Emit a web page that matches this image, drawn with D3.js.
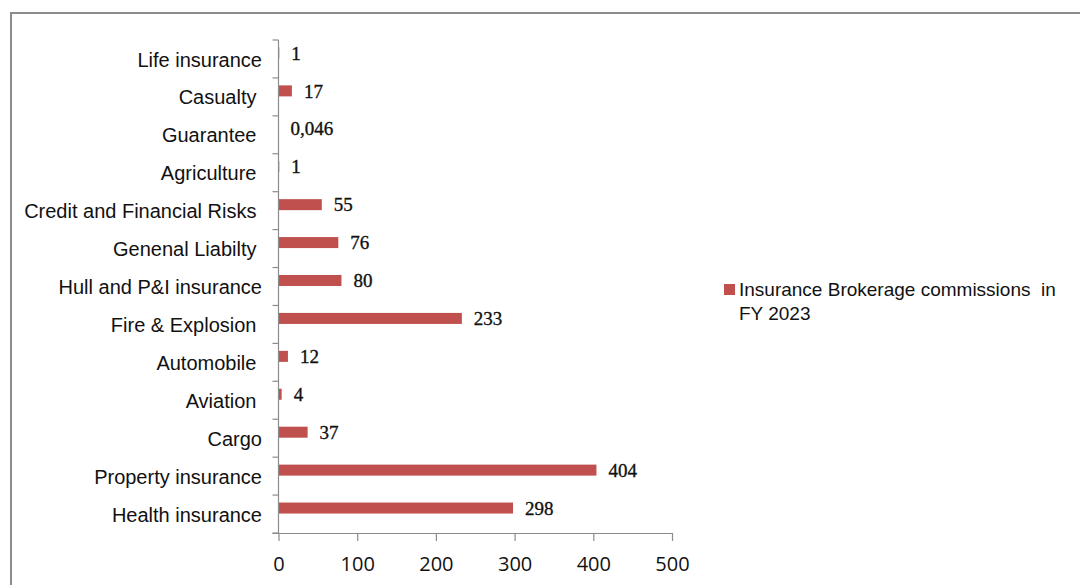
<!DOCTYPE html>
<html>
<head>
<meta charset="utf-8">
<script src="https://cdn.jsdelivr.net/npm/d3@7"></script>
<style>
  html, body { margin: 0; padding: 0; background: #fff; }
  svg { display: block; }
  .cat { font-family: "Liberation Sans", Arial, sans-serif; font-size: 20px; fill: #111; white-space: pre; }
  .val { font-family: "Liberation Serif", "Times New Roman", serif; font-size: 19px; fill: #111; stroke: #111; stroke-width: 0.35px; }
  .tick-lab { font-family: "Open Sans", "Liberation Sans", sans-serif; font-size: 20px; fill: #111; }
  .legend { font-family: "Liberation Sans", Arial, sans-serif; font-size: 19px; fill: #111; }
</style>
</head>
<body>
<svg id="chart" width="1080" height="585"></svg>
<script>
// Categories, top to bottom (trailing spaces kept as in the source labels)
const categories = [
  "Life insurance",
  "Casualty ",
  "Guarantee ",
  "Agriculture ",
  "Credit and Financial Risks ",
  "Genenal Liabilty ",
  "Hull and P&I insurance",
  "Fire & Explosion ",
  "Automobile ",
  "Aviation ",
  "Cargo",
  "Property insurance",
  "Health insurance"
];
// Insurance brokerage commissions, FY 2023
const values = [1, 17, 0.046, 1, 55, 76, 80, 233, 12, 4, 37, 404, 298];
const xTicks = [0, 100, 200, 300, 400, 500];
const seriesName = ["Insurance Brokerage commissions  in", "FY 2023"];

const svg = d3.select("#chart");
const barColor = "#C0504D";
const axisColor = "#8c8c8c";

// chart frame
svg.append("path")
  .attr("d", "M11,600 V13 H1100")
  .attr("fill", "none")
  .attr("stroke", axisColor)
  .attr("stroke-width", 2);

const x = d3.scaleLinear().domain([0, 500]).range([278.5, 672]);
const y = d3.scaleBand().domain(categories).range([40, 533]).padding(0);

const data = categories.map((c, i) => ({ cat: c, v: values[i] }));
const barH = 11;
const barShift = -6; // bars sit slightly above the category centre

// bars
svg.append("g").selectAll("rect")
  .data(data)
  .join("rect")
  .attr("x", x(0))
  .attr("y", d => y(d.cat) + y.bandwidth() / 2 + barShift - barH / 2)
  .attr("width", d => Math.max(0, x(d.v) - x(0)))
  .attr("height", barH)
  .attr("fill", barColor);

// value labels
const fmt = v => String(v).replace(".", ",");
svg.append("g").selectAll("text")
  .data(data)
  .join("text")
  .attr("class", "val")
  .attr("x", d => x(d.v) + 12)
  .attr("y", d => y(d.cat) + y.bandwidth() / 2 + barShift)
  .attr("dy", "0.35em")
  .text(d => fmt(d.v));

// vertical category axis
const yAxis = svg.append("g");
yAxis.append("line")
  .attr("x1", x(0)).attr("x2", x(0))
  .attr("y1", y.range()[0]).attr("y2", y.range()[1])
  .attr("stroke", axisColor).attr("stroke-width", 1.2);
const bounds = categories.map(c => y(c)).concat([y.range()[1]]);
yAxis.selectAll("line.tk")
  .data(bounds)
  .join("line")
  .attr("class", "tk")
  .attr("x1", x(0) - 6).attr("x2", x(0))
  .attr("y1", d => d).attr("y2", d => d)
  .attr("stroke", axisColor).attr("stroke-width", 1.2);
yAxis.selectAll("text")
  .data(categories)
  .join("text")
  .attr("class", "cat")
  .attr("x", 262)
  .attr("y", d => y(d) + y.bandwidth() / 2)
  .attr("dy", "0.38em")
  .attr("text-anchor", "end")
  .text(d => d);

// horizontal value axis
const xAxis = svg.append("g")
  .attr("transform", `translate(0,${y.range()[1]})`)
  .call(d3.axisBottom(x).tickValues(xTicks).tickSize(8).tickPadding(16).tickFormat(d3.format("d")));
xAxis.select(".domain").attr("stroke", axisColor).attr("stroke-width", 1.2)
  .attr("d", `M${x(0) - 6},0.5H${x(500)}`);
xAxis.selectAll(".tick line").attr("stroke", axisColor).attr("stroke-width", 1.2);
xAxis.selectAll(".tick text").attr("class", "tick-lab").attr("fill", "#111")
  .attr("font-family", null).attr("font-size", null);

// legend
const lg = svg.append("g");
lg.append("rect")
  .attr("x", 724).attr("y", 284).attr("width", 11).attr("height", 11)
  .attr("fill", barColor);
lg.append("text")
  .attr("class", "legend")
  .attr("x", 739).attr("y", 296)
  .style("white-space", "pre")
  .selectAll("tspan")
  .data(seriesName)
  .join("tspan")
  .attr("x", 739)
  .attr("dy", (d, i) => i === 0 ? 0 : 24)
  .text(d => d);
</script>
</body>
</html>
